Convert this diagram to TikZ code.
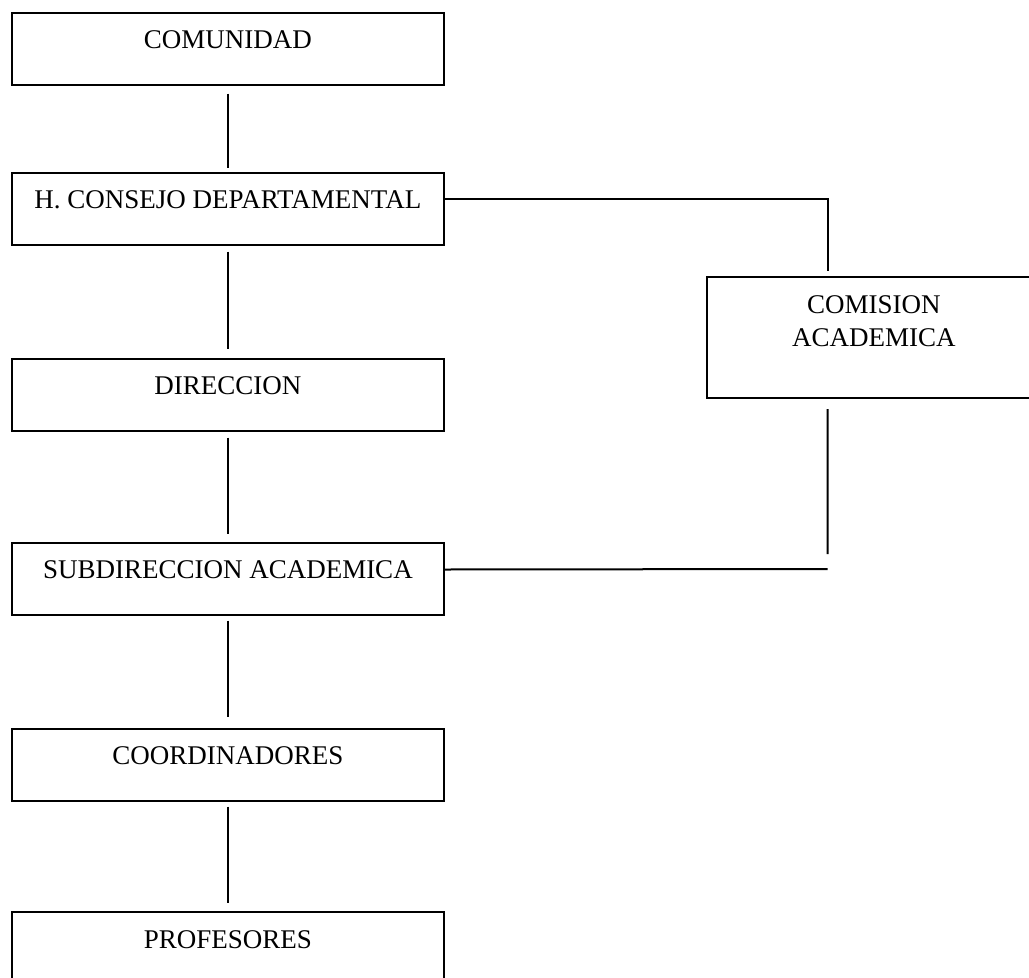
\documentclass[tikz,border=0pt]{standalone}
\usepackage{fontspec}
\setmainfont{Liberation Serif}
\newcommand{\orgtext}[3]{\parbox[c][#1][t]{#2}{\centering\rule{0pt}{36pt}#3\par}}
\begin{document}
\begin{tikzpicture}[x=1pt,y=-1pt,
  orgbox/.style={draw, line width=2pt, inner sep=0pt, outer sep=0pt,
    font=\fontsize{27}{33}\selectfont},
  link/.style={line width=2pt}]
\useasboundingbox (0,0) rectangle (1029,978);
\clip (0,0) rectangle (1029,978);
% main column
\node[orgbox] (comunidad) at (227.9,48.5) {\orgtext{72pt}{432.3pt}{COMUNIDAD}};
\node[orgbox] (consejo)   at (227.9,208.5) {\orgtext{72pt}{432.3pt}{H. CONSEJO DEPARTAMENTAL}};
\node[orgbox] (direccion) at (227.9,394.5) {\orgtext{72pt}{432.3pt}{DIRECCION}};
\node[orgbox] (subdir)    at (227.9,578.5) {\orgtext{72pt}{432.3pt}{SUBDIRECCION ACADEMICA}};
\node[orgbox] (coord)     at (227.9,764.5) {\orgtext{72pt}{432.3pt}{COORDINADORES}};
\node[orgbox] (prof)      at (227.9,948) {\orgtext{72pt}{432.3pt}{PROFESORES}};
% side box
\node[orgbox] (comision)  at (873.85,337.8) {\orgtext{121pt}{334.3pt}{COMISION\\ACADEMICA}};
% vertical links
\draw[link, shorten <=9pt, shorten >=5pt] (comunidad) -- (consejo);
\draw[link, shorten <=7pt, shorten >=10pt] (consejo) -- (direccion);
\draw[link, shorten <=7pt, shorten >=9pt] (direccion) -- (subdir);
\draw[link, shorten <=6pt, shorten >=12pt] (subdir) -- (coord);
\draw[link, shorten <=6pt, shorten >=9pt] (coord) -- (prof);
% side links
\draw[link] ([yshift=9.3pt]consejo.east) -| ([xshift=121pt,yshift=6.6pt]comision.north west);
\coordinate (cend) at (827.7,554);
\draw[link] ([xshift=121pt,yshift=-10.7pt]comision.south west) -- (cend);
\coordinate (send) at (827.7,569);
\draw[link] ([yshift=9pt]subdir.east) -- (send);
\end{tikzpicture}
\end{document}
